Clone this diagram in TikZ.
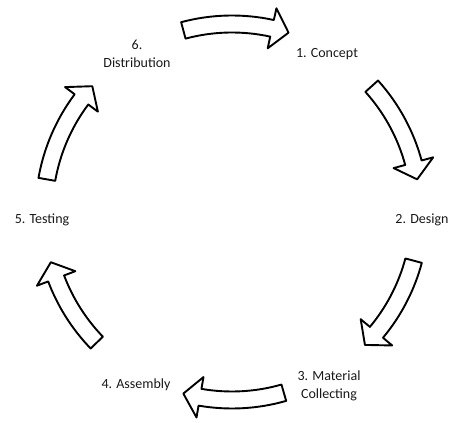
\documentclass[tikz,border=0pt]{standalone}
\usepackage{fontspec}
\setmainfont{Carlito}
\newcommand\cycR{188}
\newcommand\cycW{8.5}
\newcommand\cycH{20.5}
\newcommand\cycHd{5.2}
\newcommand\cycarrow[2]{%
  \draw[blockarrow] (#1:{\cycR+\cycW})
    arc[start angle=#1, end angle={#2+\cycHd}, radius={\cycR+\cycW}]
    -- ({#2+\cycHd}:{\cycR+\cycH}) -- (#2:\cycR) -- ({#2+\cycHd}:{\cycR-\cycH})
    -- ({#2+\cycHd}:{\cycR-\cycW})
    arc[start angle={#2+\cycHd}, end angle=#1, radius={\cycR-\cycW}] -- cycle;}
\begin{document}
\begin{tikzpicture}[x=1pt,y=1pt,
  blockarrow/.style={draw=black, fill=white, line width=1.9pt, line join=round},
  lbl/.style={font=\fontsize{14}{17.5}\selectfont, text=black!90, align=center, inner sep=0pt}]
\useasboundingbox (0,0) rectangle (450,423);
\coordinate (c) at (232,211);
\begin{scope}[shift={(c)}]
  \cycarrow{105}{72.5}
  \cycarrow{42}{10}
  \cycarrow{-15}{-45}
  \cycarrow{-74}{-105}
  \cycarrow{-136}{-164.5}
  \cycarrow{170}{138}
\end{scope}
\node[lbl] (n6) at (137,369) {6.\\Distribution};
\node[lbl] (n1) at (327,369) {1. Concept};
\node[lbl] (n2) at (422,203) {2. Design};
\node[lbl] (n3) at (329,37) {3. Material\\Collecting};
\node[lbl] (n4) at (136,38) {4. Assembly};
\node[lbl] (n5) at (42,203) {5. Testing};
\end{tikzpicture}
\end{document}
